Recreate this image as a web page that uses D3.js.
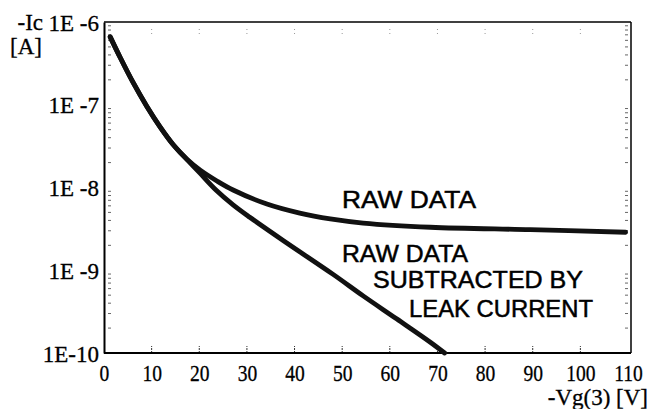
<!DOCTYPE html>
<html>
<head>
<meta charset="utf-8">
<script src="https://cdn.jsdelivr.net/npm/d3@7"></script>
<style>
  body { margin: 0; background: #fff; }
  svg { display: block; }
</style>
</head>
<body>
<div id="chart"></div>
<script>
// Gate voltage (-Vg(3), V) and collector current (-Ic, A)
var rawVolts = [1.3, 3.4, 6.1, 9.0, 11.8, 14.5, 17.4, 20.2, 23.7, 27.1, 34.2, 41.1, 47.5, 54.4, 68.5, 89.5, 109.5];
var rawCurrent = [6.61e-7, 3.72e-7, 1.86e-7, 9.55e-8, 5.37e-8, 3.31e-8, 2.19e-8, 1.62e-8, 1.20e-8,
                  9.33e-9, 6.31e-9, 4.90e-9, 4.17e-9, 3.72e-9, 3.31e-9, 3.09e-9, 2.88e-9];

var subVolts = [1.3, 3.4, 6.1, 9.0, 11.8, 14.5, 17.4, 20.2, 23.5, 27.1, 30.6, 37.6, 48.1, 54.4, 61.5, 68.5, 71.5];
var subCurrent = [6.61e-7, 3.72e-7, 1.86e-7, 9.55e-8, 5.37e-8, 3.31e-8, 2.19e-8, 1.48e-8, 9.33e-9,
                  6.17e-9, 4.37e-9, 2.29e-9, 8.91e-10, 4.90e-10, 2.57e-10, 1.35e-10, 1.0e-10];

var xTicks = [0, 10, 20, 30, 40, 50, 60, 70, 80, 90, 100, 110];
var yTicks = [1e-10, 1e-9, 1e-8, 1e-7, 1e-6];
var yTickLabels = ["1E-10", "1E -9", "1E -8", "1E -7", "1E -6"];

var svgWidth = 649;
var svgHeight = 409;
var margin = { top: 22, right: 18, bottom: 56, left: 104 };
var width = svgWidth - margin.left - margin.right;
var height = svgHeight - margin.top - margin.bottom;

var svg = d3.select("#chart")
  .append("svg")
  .attr("width", svgWidth)
  .attr("height", svgHeight);

var chartGroup = svg.append("g")
  .attr("transform", `translate(${margin.left}, ${margin.top})`);

var xScale = d3.scaleLinear()
  .domain([0, 110])
  .range([0, width - 3]);

var yScale = d3.scaleLog()
  .domain([1e-10, 1e-6])
  .range([height, 0]);

var serif = "'Liberation Serif', 'Times New Roman', serif";
var sans = "'Liberation Sans', Arial, sans-serif";

// inner tick marks, drawn dotted like the plotter output
chartGroup.append("g")
  .selectAll("line")
  .data(xTicks.slice(1, -1))
  .enter()
  .append("line")
  .attr("x1", d => xScale(d))
  .attr("x2", d => xScale(d))
  .attr("y1", height)
  .attr("y2", height - 7)
  .attr("stroke", "#333")
  .attr("stroke-width", 1)
  .attr("stroke-dasharray", "2,1");

chartGroup.append("g")
  .selectAll("line")
  .data(xTicks.slice(1, -1))
  .enter()
  .append("line")
  .attr("x1", d => xScale(d))
  .attr("x2", d => xScale(d))
  .attr("y1", 7)
  .attr("y2", 13)
  .attr("stroke", "#999")
  .attr("stroke-width", 1)
  .attr("stroke-dasharray", "1,3");

// minor log ticks on left and right
var minor = [];
yTicks.slice(0, -1).forEach(function(t) {
  for (var k = 2; k <= 9; k++) minor.push(t * k);
});

chartGroup.append("g")
  .selectAll("line")
  .data(minor)
  .enter()
  .append("line")
  .attr("x1", 4)
  .attr("x2", 7)
  .attr("y1", d => yScale(d))
  .attr("y2", d => yScale(d))
  .attr("stroke", "#666")
  .attr("stroke-width", 1);

chartGroup.append("g")
  .selectAll("line")
  .data(minor)
  .enter()
  .append("line")
  .attr("x1", width - 6)
  .attr("x2", width - 3)
  .attr("y1", d => yScale(d))
  .attr("y2", d => yScale(d))
  .attr("stroke", "#666")
  .attr("stroke-width", 1);

// frame
chartGroup.append("line")
  .attr("x1", 0).attr("x2", width)
  .attr("y1", 0).attr("y2", 0)
  .attr("stroke", "#000").attr("stroke-width", 1.5);
chartGroup.append("line")
  .attr("x1", width).attr("x2", width)
  .attr("y1", 0).attr("y2", height)
  .attr("stroke", "#000").attr("stroke-width", 1.5);

// axes
var bottomAxis = d3.axisBottom(xScale)
  .tickValues(xTicks)
  .tickSize(0)
  .tickPadding(12)
  .tickFormat(d => d);

var leftAxis = d3.axisLeft(yScale)
  .tickValues(yTicks)
  .tickSize(0)
  .tickPadding(5)
  .tickFormat((d, i) => yTickLabels[i]);

var xAxis = chartGroup.append("g")
  .attr("transform", `translate(0, ${height})`)
  .call(bottomAxis);

var yAxis = chartGroup.append("g")
  .call(leftAxis);

[xAxis, yAxis].forEach(function(ax) {
  ax.select(".domain")
    .attr("stroke", "#000")
    .attr("stroke-width", 2);
  ax.selectAll("text")
    .attr("font-family", serif)
    .attr("font-size", "23px")
    .attr("fill", "#000")
    .attr("stroke", "#000")
    .attr("stroke-width", 0.3);
});
xAxis.select(".domain").attr("d", `M0,0H${width}`);
xAxis.selectAll(".tick text").attr("transform", "scale(0.85,1)");
yAxis.selectAll(".tick text").attr("dy", "0.35em");

// curves
var line = d3.line()
  .x(d => xScale(d[0]))
  .y(d => yScale(d[1]))
  .curve(d3.curveCatmullRom.alpha(0.5));

[d3.zip(rawVolts, rawCurrent), d3.zip(subVolts, subCurrent)].forEach(function(series) {
  chartGroup.append("path")
    .datum(series)
    .attr("d", line)
    .attr("fill", "none")
    .attr("stroke", "#111")
    .attr("stroke-width", 4.8)
    .attr("stroke-linecap", "round");
});

// annotations
var notes = [
  { text: "RAW DATA", x: 342, y: 208, w: 134 },
  { text: "RAW DATA", x: 342, y: 262, w: 126 },
  { text: "SUBTRACTED BY", x: 373, y: 288, w: 210 },
  { text: "LEAK CURRENT", x: 409, y: 317, w: 184 }
];
svg.selectAll(".note")
  .data(notes)
  .enter()
  .append("text")
  .attr("class", "note")
  .attr("x", d => d.x)
  .attr("y", d => d.y)
  .attr("textLength", d => d.w)
  .attr("lengthAdjust", "spacingAndGlyphs")
  .attr("font-family", sans)
  .attr("font-size", "24px")
  .attr("fill", "#000")
  .attr("stroke", "#000")
  .attr("stroke-width", 0.5)
  .text(d => d.text);

// axis titles
svg.selectAll(".title")
  .data([
    { text: "-Ic", x: 43, y: 30, anchor: "end" },
    { text: "[A]", x: 10, y: 54, anchor: "start" },
    { text: "-Vg(3)  [V]", x: 648, y: 405, anchor: "end" }
  ])
  .enter()
  .append("text")
  .attr("class", "title")
  .attr("x", d => d.x)
  .attr("y", d => d.y)
  .attr("text-anchor", d => d.anchor)
  .attr("font-family", serif)
  .attr("font-size", "23px")
  .attr("stroke", "#000")
  .attr("stroke-width", 0.3)
  .text(d => d.text);
</script>
</body>
</html>
